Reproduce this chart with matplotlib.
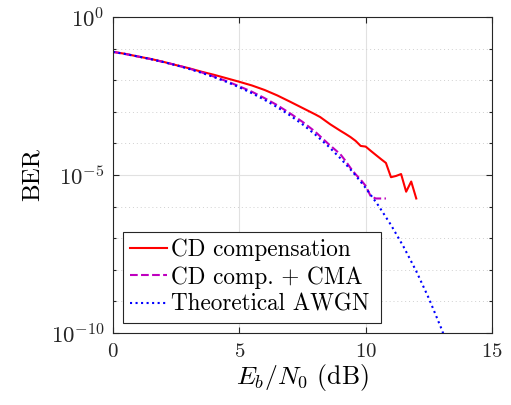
import numpy as np
import matplotlib
matplotlib.use('Agg')
import matplotlib.pyplot as plt

plt.rcParams['font.family'] = ['cmr10', 'DejaVu Serif']
plt.rcParams['mathtext.fontset'] = 'cm'
plt.rcParams['axes.formatter.use_mathtext'] = True

# CD compensation only
snr_cd = [0, 0.5, 1, 1.5, 2, 2.5, 3, 3.5, 4, 4.5, 5, 5.5, 6, 6.5, 7, 7.5, 8,
          8.2, 8.6, 9.0, 9.2, 9.4, 9.6, 9.8, 10.0, 10.2, 10.4, 10.6, 10.8,
          11.0, 11.2, 11.4, 11.6, 11.8, 12.0]
ber_cd = [7.9e-2, 6.8e-2, 5.6e-2, 4.7e-2, 3.8e-2, 3.0e-2, 2.4e-2, 1.86e-2,
          1.48e-2, 1.15e-2, 8.9e-3, 6.8e-3, 4.9e-3, 3.3e-3, 2.1e-3, 1.32e-3,
          8.3e-4, 6.8e-4, 4.0e-4, 2.5e-4, 2.0e-4, 1.58e-4, 1.2e-4, 8.3e-5,
          7.9e-5, 5.8e-5, 4.3e-5, 3.2e-5, 2.4e-5, 8.5e-6, 9.3e-6, 1.07e-5,
          2.95e-6, 6.2e-6, 1.8e-6]

# CD compensation + CMA
snr_cma = [0, 0.5, 1, 1.5, 2, 2.5, 3, 3.5, 4, 4.5, 5, 5.5, 6, 6.5, 7, 7.5,
           8, 8.5, 9.0, 9.2, 9.4, 9.6, 9.8, 10.0, 10.2, 10.4, 10.6, 10.8]
ber_cma = [7.9e-2, 6.7e-2, 5.6e-2, 4.65e-2, 3.75e-2, 3.0e-2, 2.35e-2, 1.78e-2,
           1.3e-2, 9.3e-3, 6.4e-3, 4.3e-3, 2.7e-3, 1.62e-3, 9.0e-4, 4.8e-4,
           2.35e-4, 1.0e-4, 4.5e-5, 2.8e-5, 1.66e-5, 1.05e-5, 7.1e-6, 4.5e-6,
           2.1e-6, 1.8e-6, 1.8e-6, 1.8e-6]

# theoretical AWGN
snr_th = [0, 0.5, 1, 1.5, 2, 2.5, 3, 3.5, 4, 4.5, 5, 5.5, 6, 6.5, 7, 7.5, 8,
          8.5, 9, 9.5, 10, 10.5, 11, 11.5, 12, 12.5, 13, 13.5]
ber_th = [7.86e-2, 6.71e-2, 5.63e-2, 4.64e-2, 3.75e-2, 2.97e-2, 2.29e-2,
          1.72e-2, 1.25e-2, 8.8e-3, 5.95e-3, 3.86e-3, 2.39e-3, 1.40e-3,
          7.73e-4, 4.0e-4, 1.91e-4, 8.4e-5, 3.36e-5, 1.21e-5, 3.87e-6,
          1.08e-6, 2.61e-7, 5.3e-8, 9.01e-9, 1.23e-9, 1.33e-10, 1.1e-11]

fig = plt.figure(figsize=(5.11, 4.05), dpi=100)
ax = fig.add_axes([0.221, 0.178, 0.742, 0.780])

ax.semilogy(snr_cd, ber_cd, '-', color='r', lw=1.5, label='CD compensation')
ax.semilogy(snr_cma, ber_cma, '--', color='m', lw=1.5, label='CD comp. + CMA')
ax.semilogy(snr_th, ber_th, ':', color='b', lw=1.5, label='Theoretical AWGN')

ax.set_xlim(0, 15)
ax.set_ylim(1e-10, 1)
ax.set_xticks([0, 5, 10, 15])
ax.set_yticks([1e-10, 1e-5, 1])
ax.set_yticks([10.0**-k for k in range(1, 10) if k != 5], minor=True)
ax.set_yticklabels([r'$10^{-10}$', r'$10^{-5}$', r'$10^{0}$'])
ax.yaxis.set_minor_formatter(matplotlib.ticker.NullFormatter())
ax.tick_params(which='both', direction='in', top=True, right=True,
               labelsize=15, colors='#262626', width=0.8)
ax.tick_params(axis='y', labelsize=16.5, pad=6)
ax.tick_params(which='major', length=4)
ax.tick_params(which='minor', length=2.5)
ax.tick_params(axis='x', pad=7)

ax.grid(True, which='major', color='#e1e1e1', lw=0.8)
ax.grid(True, which='minor', axis='y', color='#d0d0d0', lw=0.7, ls=(0, (1, 3)))
ax.set_axisbelow(True)
for s in ax.spines.values():
    s.set_color('#262626')
    s.set_linewidth(0.8)

ax.set_xlabel(r'$E_b/N_0$ (dB)', fontsize=18.5, labelpad=1)
ax.set_ylabel('BER', fontsize=18, labelpad=5)

leg = ax.legend(loc='lower left', bbox_to_anchor=(0.0256, 0.032, 0.681, 0.2),
                mode='expand', borderaxespad=0,
                fontsize=16.7, fancybox=False, framealpha=1, edgecolor='#262626',
                handlelength=1.6, handletextpad=0.2, labelspacing=0.22,
                borderpad=0.3)
leg.get_frame().set_linewidth(0.8)

fig.savefig('out.png', dpi=100)
